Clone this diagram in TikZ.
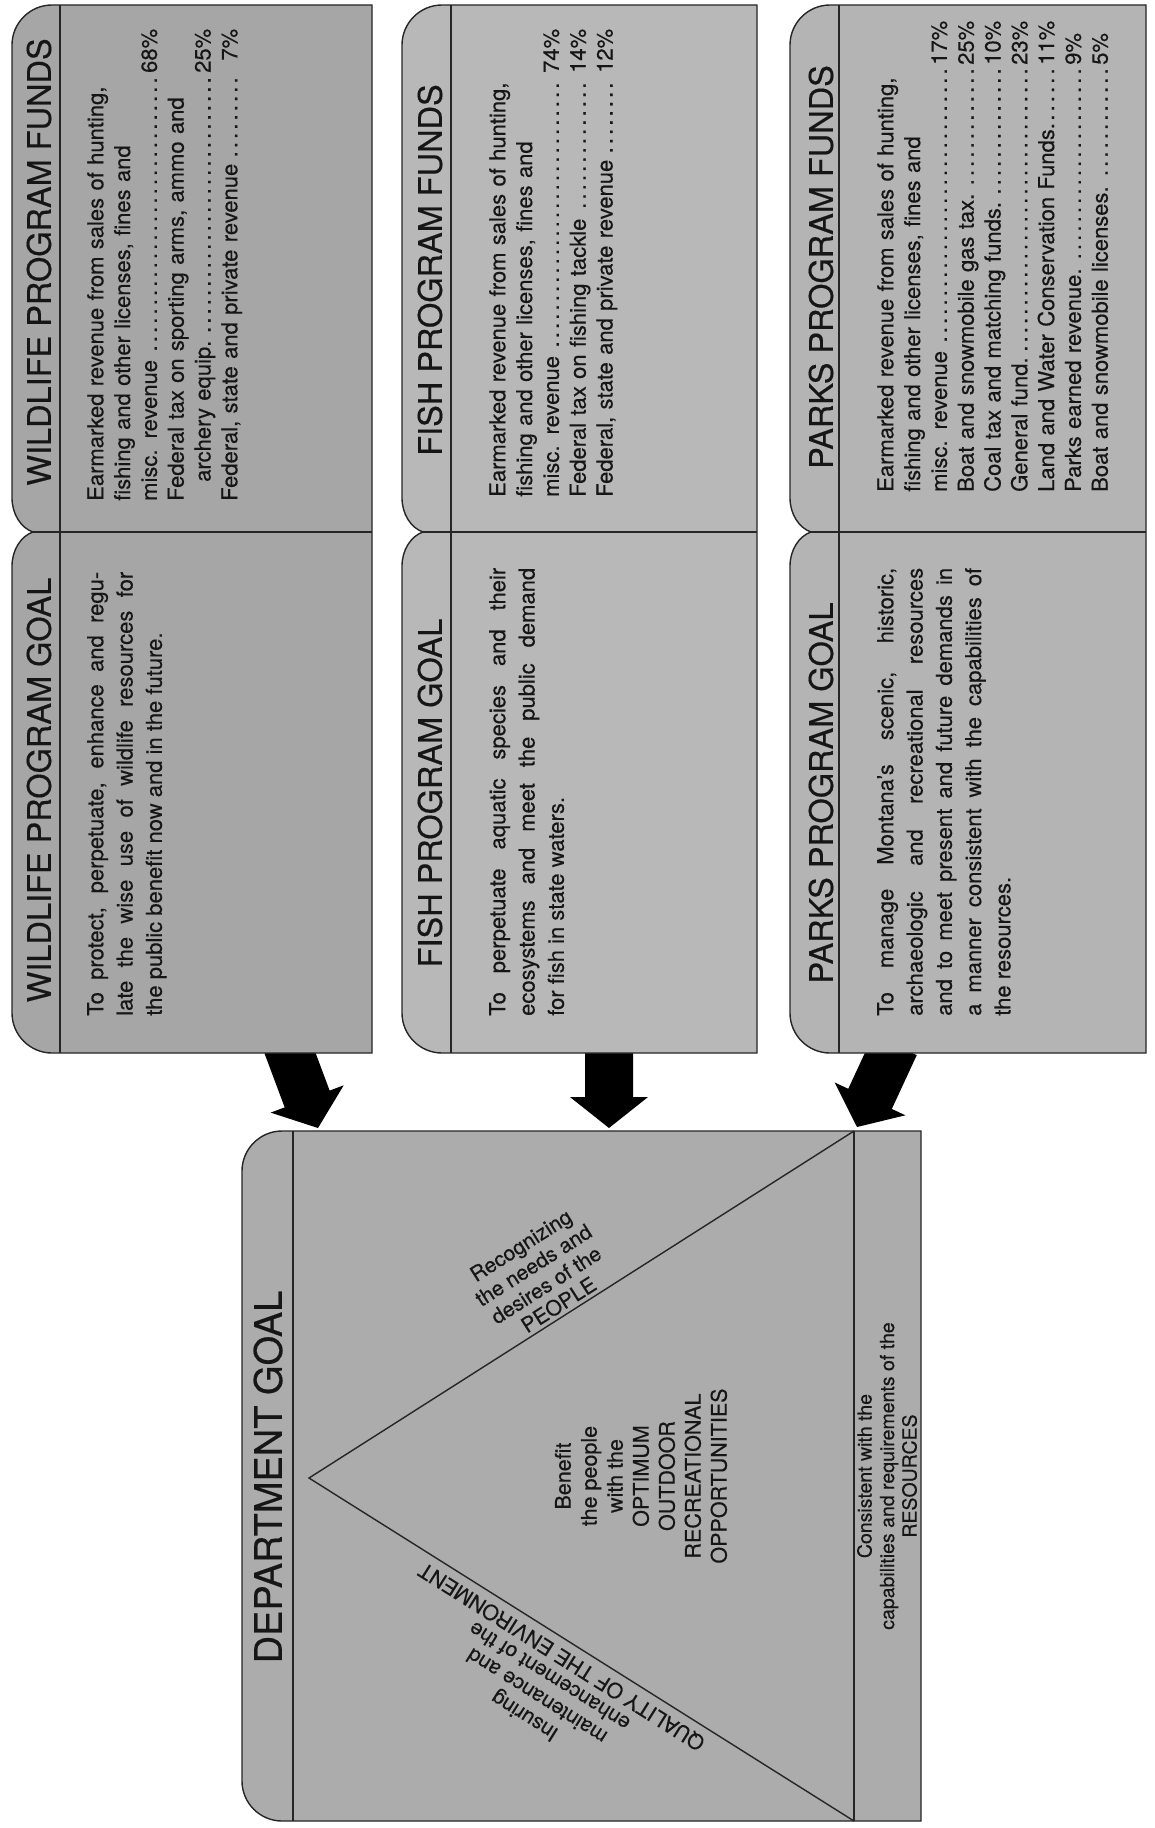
\documentclass[tikz,border=0pt]{standalone}
\usepackage{fontspec}
\setmainfont[FakeBold=0.4]{TeX Gyre Heros}
\usetikzlibrary{calc}
\definecolor{wildfill}{RGB}{166,166,166}
\definecolor{fishfill}{RGB}{184,184,184}
\definecolor{parkfill}{RGB}{180,180,180}
\definecolor{deptfill}{RGB}{172,172,172}
\definecolor{inkline}{RGB}{38,38,38}
\definecolor{inktext}{RGB}{22,22,22}
\newcommand\lead{\leaders\hbox to 0.42em{\hss.\hss}\hfill}
\newcommand\pcr[1]{\makebox[2.0em][r]{#1}}
\newcommand\pcl[1]{\makebox[2.0em][l]{#1}}
\newcommand\tabpanel[4]{% #1=L #2=D #3=R #4=fill
  \path[fill=#4, panelline]
    (#1+40,5) -- (#3,5) -- (#3,1053) -- (#1+40,1053)
    .. controls (#1+18,1053) and (#1,1035) .. (#1,1013)
    -- (#1,566) .. controls (#1,550) and (#1+9,536) .. (#1+21,532)
    .. controls (#1+9,528) and (#1,514) .. (#1,498)
    -- (#1,45) .. controls (#1,23) and (#1+18,5) .. (#1+40,5) -- cycle;
  \draw[panelline] (#1+21,532) -- (#3,532);
  \draw[panelline] (#2,5) -- (#2,1053);
}
\newcommand\blockarrow[3]{% #1 start, #2 tip, #3 id
  \coordinate (#3h) at ($(#2)!31pt!(#1)$);
  \fill[arrowink] ($(#1)!24pt!90:(#2)$) -- ($(#3h)!24pt!90:(#2)$)
    -- ($(#3h)!39pt!90:(#2)$) -- (#2) -- ($(#3h)!39pt!-90:(#2)$)
    -- ($(#3h)!24pt!-90:(#2)$) -- ($(#1)!24pt!-90:(#2)$) -- cycle;
}
\tikzset{
  panelline/.style={draw=inkline, line width=1.4pt},
  arrowink/.style={fill=black},
  tabtitle/.style={rotate=90, anchor=center, inner sep=0pt, text=inktext,
    font=\fontsize{32.5}{36}\selectfont},
  depttitle/.style={rotate=90, anchor=center, inner sep=0pt, text=inktext,
    font=\fontsize{38}{42}\selectfont},
  fundstext/.style={rotate=90, anchor=north west, inner sep=0pt, text width=#1,
    text=inktext, font=\fontsize{22}{26.8}\selectfont},
  goaltext/.style={rotate=90, anchor=north west, inner sep=0pt, text width=#1,
    align=justify, text=inktext, font=\fontsize{22}{29.3}\selectfont},
  slopetext/.style={sloped, allow upside down, align=center, text=inktext,
    font=\fontsize{21}{23.5}\selectfont},
  centretext/.style={rotate=90, anchor=center, inner sep=0pt, align=center,
    text=inktext, font=\fontsize{21.5}{26}\selectfont},
  smalltext/.style={rotate=90, anchor=center, inner sep=0pt, align=center,
    text=inktext, font=\fontsize{19.5}{22.5}\selectfont},
}
\begin{document}
\begin{tikzpicture}[x=1pt,y=-1pt]
\fill[white] (0,0) rectangle (1154,1828);
\useasboundingbox (0,0) rectangle (1154,1828);

% arrows (behind panels)
\coordinate (wS) at (287,1045); \coordinate (wT) at (318,1128);
\coordinate (fS) at (609,1045); \coordinate (fT) at (609,1128);
\coordinate (pS) at (895,1045); \coordinate (pT) at (857,1127);
\blockarrow{wS}{wT}{wa}
\blockarrow{fS}{fT}{fa}
\blockarrow{pS}{pT}{pa}

% panels
\tabpanel{12}{60}{372}{wildfill}
\tabpanel{402}{451}{757}{fishfill}
\tabpanel{790}{839}{1146}{parkfill}

% wildlife
\node[tabtitle] (wfundsT) at (39,262) {WILDLIFE PROGRAM FUNDS};
\node[tabtitle] (wgoalT) at (39,790) {WILDLIFE PROGRAM GOAL};
\node[fundstext=472pt] (wfunds) at (87,501) {%
Earmarked revenue from sales of hunting,\par
fishing and other licenses, fines and\par
misc. revenue\lead\pcr{68\%}\par
Federal tax on sporting arms, ammo and\par
\hspace*{19pt}archery equip.\lead\pcr{25\%}\par
Federal, state and private revenue\lead\pcr{7\%}\par};
\node[goaltext=444pt] (wgoal) at (87,1016) {%
To protect, perpetuate, enhance and regu-\linebreak
late the wise use of wildlife resources for\linebreak
the public benefit now and in the future.};

% fish
\node[tabtitle] (ffundsT) at (430,270) {FISH PROGRAM FUNDS};
\node[tabtitle] (fgoalT) at (430,793) {FISH PROGRAM GOAL};
\node[fundstext=468pt] (ffunds) at (489,497) {%
Earmarked revenue from sales of hunting,\par
fishing and other licenses, fines and\par
misc. revenue\lead\pcr{74\%}\par
Federal tax on fishing tackle\lead\pcr{14\%}\par
Federal, state and private revenue\lead\pcr{12\%}\par};
\node[goaltext=448pt] (fgoal) at (489,1016) {%
To perpetuate aquatic species and their\linebreak
ecosystems and meet the public demand\linebreak
for fish in state waters.};

% parks
\node[tabtitle] (pfundsT) at (821,267) {PARKS PROGRAM FUNDS};
\node[tabtitle] (pgoalT) at (821,793) {PARKS PROGRAM GOAL};
\node[fundstext=471pt] (pfunds) at (877,492) {%
Earmarked revenue from sales of hunting,\par
fishing and other licenses, fines and\par
misc. revenue\lead\pcl{17\%}\par
Boat and snowmobile gas tax.\lead\pcl{25\%}\par
Coal tax and matching funds.\lead\pcl{10\%}\par
General fund.\lead\pcl{23\%}\par
Land and Water Conservation Funds.\lead\pcl{11\%}\par
Parks earned revenue.\lead\pcl{9\%}\par
Boat and snowmobile licenses.\lead\pcl{5\%}\par};
\node[goaltext=448pt] (pgoal) at (877,1016) {%
To manage Montana's scenic, historic,\linebreak
archaeologic and recreational resources\linebreak
and to meet present and future demands in\linebreak
a manner consistent with the capabilities of\linebreak
the resources.};

% department box
\path[fill=deptfill, panelline] (282,1131) -- (921,1131) -- (921,1821) -- (282,1821)
  .. controls (260,1821) and (242,1803) .. (242,1781) -- (242,1171)
  .. controls (242,1149) and (260,1131) .. (282,1131) -- cycle;
\draw[panelline] (293,1131) -- (293,1821);
\coordinate (apex) at (309,1478);
\coordinate (baseTop) at (854,1131);
\coordinate (baseBot) at (854,1821);
\draw[panelline] (baseTop) -- (baseBot);
\draw[panelline] (baseTop) -- (apex) -- (baseBot);

\node[depttitle] (deptT) at (268,1477) {DEPARTMENT GOAL};
\path (apex) -- (baseTop) node[slopetext, pos=0.47, anchor=south, inner sep=4pt] (people)
  {Recognizing\\the needs and\\desires of the\\PEOPLE};
\path (baseBot) -- (apex) node[slopetext, pos=0.52, anchor=south, inner sep=8pt] (envir)
  {Insuring\\maintenance and\\enhancement of the\\QUALITY OF THE ENVIRONMENT};
\node[centretext] (benefit) at (641,1476)
  {Benefit\\the people\\with the\\OPTIMUM\\OUTDOOR\\RECREATIONAL\\OPPORTUNITIES};
\node[smalltext] (resources) at (887,1476)
  {Consistent with the\\capabilities and requirements of the\\RESOURCES};
\end{tikzpicture}
\end{document}
